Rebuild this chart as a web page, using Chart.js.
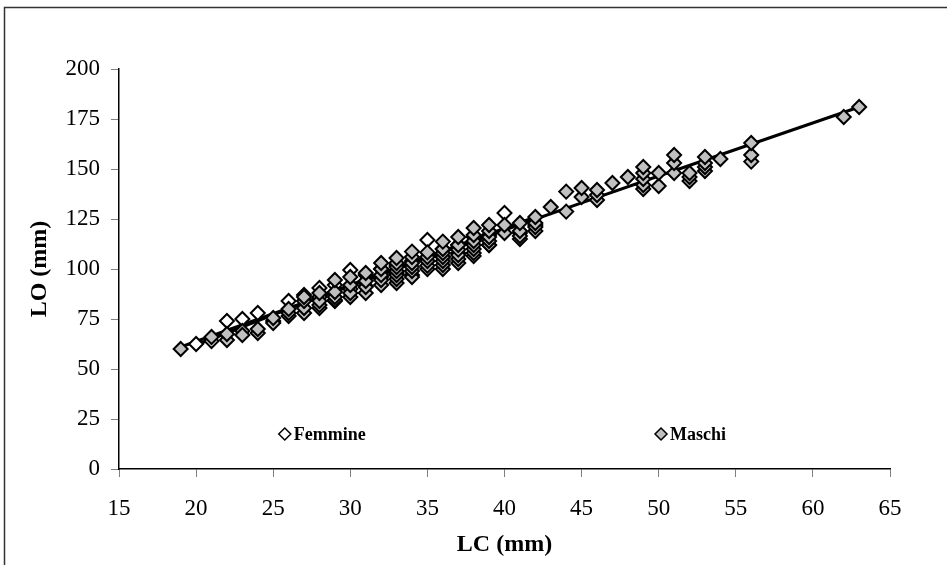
<!DOCTYPE html>
<html>
<head>
<meta charset="utf-8">
<style>
body { margin: 0; background: #fff; }
</style>
</head>
<body>
<canvas id="lcChart" width="947" height="565"></canvas>

<script src="https://cdn.jsdelivr.net/npm/chart.js"></script>

<script>
// tick values
const xTickValues = [15, 20, 25, 30, 35, 40, 45, 50, 55, 60, 65];
const yTickValues = [0, 25, 50, 75, 100, 125, 150, 175, 200];

// Femmine
const femLC = [20, 21, 22, 23, 24, 25, 26, 27, 28, 28, 29, 29, 30, 30, 31, 31, 32, 32, 33, 33,
               34, 34, 35, 35, 36, 36, 37, 37, 38, 38, 39, 39, 40, 41, 42];
const femLO = [62.5, 64, 74, 75, 78, 74, 84, 87, 90.5, 86, 84, 92, 99.5, 90, 91.5, 97, 100, 96, 102, 98,
               97, 104, 114.5, 104, 106, 110, 112, 108, 106.5, 116, 117, 112, 128, 118, 122];

// Maschi
const masLC = [19, 21, 22, 22, 23, 23, 24, 24, 25, 25, 26, 26, 26, 27, 27, 27, 27, 28, 28, 28, 28,
               29, 29, 29, 29, 30, 30, 30, 30, 31, 31, 31, 31, 32, 32, 32, 32, 32,
               33, 33, 33, 33, 33, 33, 33, 34, 34, 34, 34, 34, 34, 35, 35, 35, 35, 35,
               36, 36, 36, 36, 36, 36, 36, 37, 37, 37, 37, 37, 37, 38, 38, 38, 38, 38, 38,
               39, 39, 39, 39, 39, 40, 40, 41, 41, 41, 41, 42, 42, 42, 42, 43, 44, 44, 45, 45,
               46, 46, 46, 47, 48, 49, 49, 49, 49, 49, 50, 50, 51, 51, 51, 52, 52, 52,
               53, 53, 53, 53, 54, 56, 56, 56, 62, 63];
const masLO = [60, 66, 64.5, 67.5, 69, 67, 68, 70, 73, 75.5, 76.5, 78, 80, 78, 80.5, 84, 86, 80.5, 82, 84, 88,
               84.5, 86, 88.5, 94.5, 86, 88, 92, 96, 88, 91, 94, 98, 92, 94.5, 97, 100, 103,
               93, 95, 97, 99, 101, 103, 105.5, 96, 99, 101, 103, 106, 108.7, 100, 101.7, 104, 106, 108.3,
               100, 102, 104, 106, 108, 110, 113.7, 103, 105, 107, 109.7, 112, 116, 108, 110, 112, 114, 117, 120.5,
               112, 114, 116, 119, 122, 118, 122, 115, 116.5, 119, 123, 119, 121, 123, 126, 131, 128.7, 138.7, 136, 140.5,
               134.5, 137, 139.5, 143, 146, 140, 142, 145, 148, 151, 141.5, 148, 148, 153, 157, 144, 146, 148,
               149, 151, 153, 156, 155, 153.7, 157, 163, 176, 181];

// trend lines
const femTrendLC = [20, 30, 42];
const femTrendLO = [62, 92, 126];
const masTrendLC = [19, 30, 40, 50, 63];
const masTrendLO = [61, 91.5, 119.5, 146.5, 181];

const seriesNames = ['Femmine', 'Maschi'];

function pairs(xs, ys) {
    return xs.map((x, i) => ({x: x, y: ys[i]}));
}

const serif = "'Liberation Serif', 'Times New Roman', serif";

const framePlugin = {
    id: 'frame',
    afterDraw(chart) {
        const ctx = chart.ctx;
        ctx.save();
        ctx.strokeStyle = '#333';
        ctx.lineWidth = 1.5;
        ctx.beginPath();
        ctx.moveTo(4.5, 565);
        ctx.lineTo(4.5, 7.5);
        ctx.lineTo(947, 7.5);
        ctx.stroke();
        ctx.restore();
    }
};

const legendPlugin = {
    id: 'innerLegend',
    afterDraw(chart) {
        const ctx = chart.ctx;
        const area = chart.chartArea;
        const y = area.bottom - 35;
        const spots = [0.215, 0.703];
        ctx.save();
        ctx.font = 'bold 18px ' + serif;
        ctx.textBaseline = 'middle';
        [0, 1].forEach(i => {
            const ds = chart.data.datasets[i];
            const cx = area.left + spots[i] * area.width;
            const r = 6;
            ctx.beginPath();
            ctx.moveTo(cx, y - r);
            ctx.lineTo(cx + r, y);
            ctx.lineTo(cx, y + r);
            ctx.lineTo(cx - r, y);
            ctx.closePath();
            ctx.fillStyle = ds.backgroundColor;
            ctx.fill();
            ctx.lineWidth = 1.5;
            ctx.strokeStyle = '#000';
            ctx.stroke();
            ctx.fillStyle = '#000';
            ctx.fillText(seriesNames[i], cx + 9, y + 1);
        });
        ctx.restore();
    }
};

let ctx = document.getElementById('lcChart').getContext('2d');
let chart = new Chart(ctx, {
    type: 'scatter',
    data: {
        datasets: [{
            label: seriesNames[0],
            data: pairs(femLC, femLO),
            pointStyle: 'rectRot',
            pointRadius: 7,
            borderWidth: 2,
            borderColor: '#000',
            backgroundColor: '#fff',
            order: 2
        }, {
            label: seriesNames[1],
            data: pairs(masLC, masLO),
            pointStyle: 'rectRot',
            pointRadius: 7,
            borderWidth: 2,
            borderColor: '#000',
            backgroundColor: '#c0c0c0',
            order: 1
        }, {
            label: 'trend F',
            data: pairs(femTrendLC, femTrendLO),
            showLine: true,
            pointRadius: 0,
            borderWidth: 3,
            borderColor: '#000',
            tension: 0.2,
            order: 3
        }, {
            label: 'trend M',
            data: pairs(masTrendLC, masTrendLO),
            showLine: true,
            pointRadius: 0,
            borderWidth: 3,
            borderColor: '#000',
            tension: 0.2,
            order: 3
        }]
    },
    options: {
        responsive: false,
        animation: false,
        layout: { padding: { top: 69, right: 57, left: 0, bottom: 0 } },
        plugins: {
            legend: { display: false },
            tooltip: { enabled: false }
        },
        scales: {
            x: {
                type: 'linear',
                min: 15,
                max: 65,
                afterBuildTicks: s => { s.ticks = xTickValues.map(v => ({value: v})); },
                afterFit: s => { s.height = 96; },
                grid: { drawOnChartArea: false, tickLength: 8, tickColor: '#808080' },
                border: { color: '#000', width: 1.5 },
                ticks: { color: '#000', font: { family: serif, size: 23 }, padding: 18, maxRotation: 0 },
                title: {
                    display: true,
                    text: 'LC (mm)',
                    color: '#000',
                    font: { family: serif, size: 24, weight: 'bold' },
                    padding: { top: 0, bottom: 6 }
                }
            },
            y: {
                type: 'linear',
                min: 0,
                max: 200,
                afterBuildTicks: s => { s.ticks = yTickValues.map(v => ({value: v})); },
                afterFit: s => { s.width = 119; },
                grid: { drawOnChartArea: false, tickLength: 8, tickColor: '#808080' },
                border: { color: '#000', width: 1.5 },
                ticks: { color: '#000', font: { family: serif, size: 23 }, padding: 11 },
                title: {
                    display: true,
                    text: 'LO (mm)',
                    color: '#000',
                    font: { family: serif, size: 24, weight: 'bold' },
                    padding: { top: 25, bottom: 0 }
                }
            }
        }
    },
    plugins: [framePlugin, legendPlugin]
});
</script>

</body>
</html>
